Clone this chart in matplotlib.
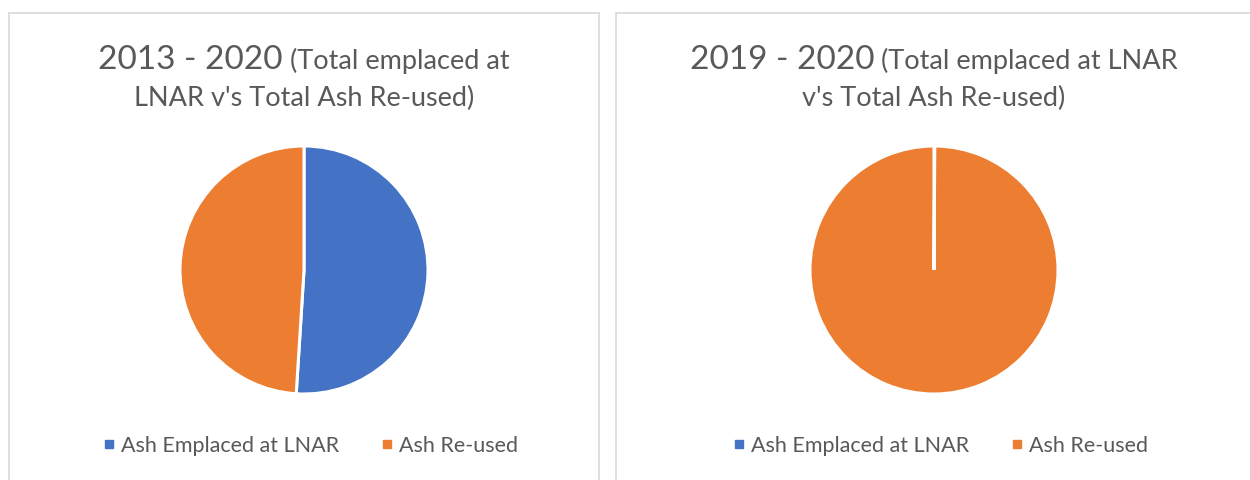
import matplotlib.pyplot as plt
from matplotlib.patches import Rectangle
from matplotlib.lines import Line2D

# pie data
labels = ["Ash Emplaced at LNAR", "Ash Re-used"]
share_2013_2020 = [51, 49]
share_2019_2020 = [0.1, 99.9]

titles_big = ["2013 - 2020", "2019 - 2020"]
titles_small1 = ["(Total emplaced at", "(Total emplaced at LNAR"]
titles_line2 = ["LNAR v's Total Ash Re-used)", "v's Total Ash Re-used)"]

colors = ["#4472C4", "#ED7D31"]
text_col = "#595959"
font = "Lato"

W, H = 1250, 480
fig = plt.figure(figsize=(W / 100, H / 100), dpi=100)

# panel borders (pixel coords -> figure coords)
def px_rect(x0, y0, x1, y1):
	return Rectangle((x0 / W, 1 - y1 / H), (x1 - x0) / W, (y1 - y0) / H,
		transform=fig.transFigure, fill=False, edgecolor="#D9D9D9", lw=1.2)

fig.patches.append(px_rect(9, 13, 599, 490))
fig.patches.append(px_rect(616, 13, 1260, 490))

centers = [304, 934]
radius = 124
data = [share_2013_2020, share_2019_2020]

renderer = fig.canvas.get_renderer()

for i in range(2):
	cx = centers[i]
	ax = fig.add_axes([(cx - radius) / W, (H - 270 - radius) / H, 2 * radius / W, 2 * radius / H])
	ax.pie(data[i], colors=colors, startangle=90, counterclock=False,
		wedgeprops=dict(edgecolor="white", linewidth=2.2))
	ax.set_xlim(-1, 1)
	ax.set_ylim(-1, 1)
	ax.set_aspect("equal")
	ax.axis("off")

	# title line 1: big years + smaller bracket text, centred together
	t1 = fig.text(0, 1 - 69 / H, titles_big[i], fontsize=24, color=text_col,
		family=font, va="baseline", ha="left")
	t2 = fig.text(0, 1 - 69 / H, " " + titles_small1[i], fontsize=19.5, color=text_col,
		family=font, va="baseline", ha="left")
	w1 = t1.get_window_extent(renderer).width
	w2 = t2.get_window_extent(renderer).width
	x_start = cx - (w1 + w2) / 2
	t1.set_x(x_start / W)
	t2.set_x((x_start + w1) / W)

	fig.text(cx / W, 1 - 106 / H, titles_line2[i], fontsize=19.5, color=text_col,
		family=font, va="baseline", ha="center")

	# legend under each pie
	handles = [Line2D([], [], marker="s", ls="", color=c, markersize=6) for c in colors]
	fig.legend(handles, labels, loc="center", ncol=2,
		bbox_to_anchor=((cx + 7) / W, 1 - 446 / H), frameon=False,
		prop=dict(family=font, size=15.5), labelcolor=text_col,
		handlelength=0.5, handletextpad=0.3, columnspacing=2.0)

fig.savefig("out.png", dpi=100)
